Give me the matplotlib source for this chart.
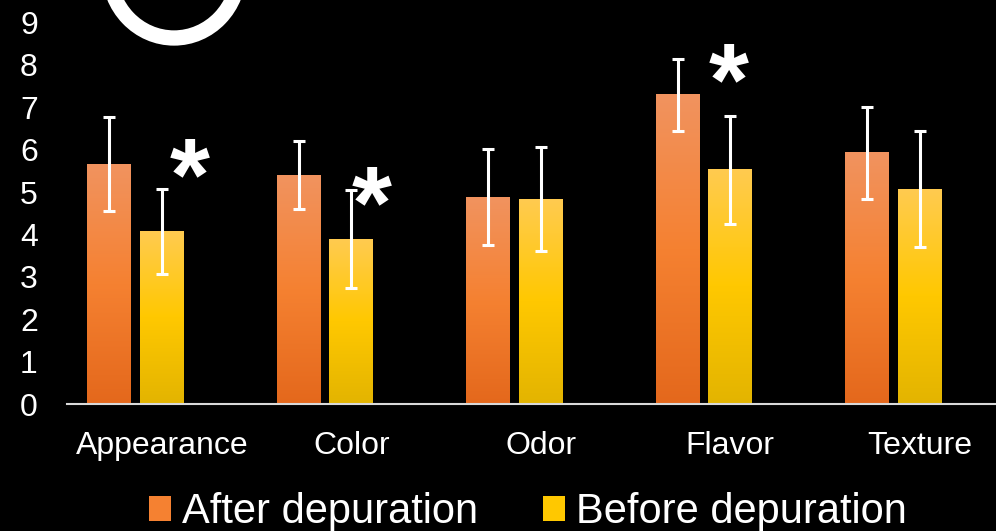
import numpy as np
import matplotlib
matplotlib.use("Agg")
import matplotlib.pyplot as plt
from matplotlib.colors import LinearSegmentedColormap
from matplotlib.patches import Patch, Ellipse

plt.rcParams["font.family"] = ["Liberation Sans", "DejaVu Sans"]

# ── Data ─────────────────────────────────────────────────────────────────────
CATEGORIES = ["Appearance", "Color", "Odor", "Flavor", "Texture"]
AFTER      = [5.66, 5.40, 4.88, 7.29, 5.92]
AFTER_ERR  = [1.10, 0.81, 1.14, 0.84, 1.08]
BEFORE     = [4.06, 3.89, 4.83, 5.52, 5.07]
BEFORE_ERR = [1.00, 1.15, 1.23, 1.28, 1.37]
Y_TICKS    = [0, 1, 2, 3, 4, 5, 6, 7, 8, 9]

# significance marks: (category index, x offset, y value)
STARS = [(0, 0.145, 5.71), (1, 0.11, 5.05), (3, -0.01, 7.97)]

LEGEND = ["After depuration", "Before depuration"]

ORANGE_GRAD = ["#e4681c", "#f58131", "#f1935f"]   # bottom -> top
YELLOW_GRAD = ["#e3b400", "#ffc800", "#ffcb50"]

# ── Figure ───────────────────────────────────────────────────────────────────
fig = plt.figure(figsize=(9.96, 5.31), dpi=100)
fig.patch.set_facecolor("black")
ax = fig.add_axes([67 / 996, 127 / 531, 929 / 996, 404 / 531])
ax.set_facecolor("black")

x = np.arange(len(CATEGORIES))
W = 0.232
OFF = 0.277


def gradient_bars(xpos, vals, stops):
    cmap = LinearSegmentedColormap.from_list("g", stops)
    grad = np.linspace(1, 0, 256).reshape(-1, 1)
    bars = ax.bar(xpos, vals, width=W, color="none", edgecolor="none", zorder=2)
    for b in bars:
        x0, h = b.get_x(), b.get_height()
        ax.imshow(grad, cmap=cmap, extent=[x0, x0 + W, 0, h],
                  aspect="auto", zorder=2, interpolation="bilinear")
    return bars


gradient_bars(x - OFF, AFTER, ORANGE_GRAD)
gradient_bars(x, BEFORE, YELLOW_GRAD)

for xs, vals, errs in [(x - OFF, AFTER, AFTER_ERR), (x, BEFORE, BEFORE_ERR)]:
    ax.errorbar(xs, vals, yerr=errs, fmt="none", ecolor="white",
                elinewidth=2.2, capsize=4.4, capthick=2.2, zorder=3)

# glyph sits high in its text box, so nudge it down by ~22 px
for i, dx, yv in STARS:
    ax.annotate("*", (i + dx, yv), xytext=(0, -16), textcoords="offset points",
                color="white", fontsize=74, fontweight="bold",
                ha="center", va="center", zorder=4)

ax.set_xlim(-0.5, -0.5 + 929 / 189.5)
ax.set_ylim(0, 404 / 42.4)
ax.set_xticks(x)
ax.set_xticklabels(CATEGORIES)
ax.set_yticks(Y_TICKS)
ax.tick_params(axis="x", length=0, pad=19.5, colors="white", labelsize=23)
ax.tick_params(axis="y", length=0, pad=21, colors="white", labelsize=23)
for s in ["top", "right", "left"]:
    ax.spines[s].set_visible(False)
ax.spines["bottom"].set_color("#d9d9d9")
ax.spines["bottom"].set_linewidth(1.5)

# hand-drawn circle at the top left
fig.patches.append(Ellipse((174 / 996, (531 + 30) / 531), 130 / 996, 136 / 531,
                           transform=fig.transFigure, fill=False,
                           edgecolor="white", linewidth=11))

handles = [Patch(facecolor=ORANGE_GRAD[1], edgecolor="none"),
           Patch(facecolor=YELLOW_GRAD[1], edgecolor="none")]
fig.legend(handles, LEGEND, loc="center", bbox_to_anchor=(528 / 996, 19 / 531),
           ncol=2, frameon=False, fontsize=30, labelcolor="white",
           handlelength=0.53, handleheight=0.53, handletextpad=0.26,
           columnspacing=1.56, borderpad=0)

fig.savefig("out.png", dpi=100, facecolor=fig.get_facecolor())
